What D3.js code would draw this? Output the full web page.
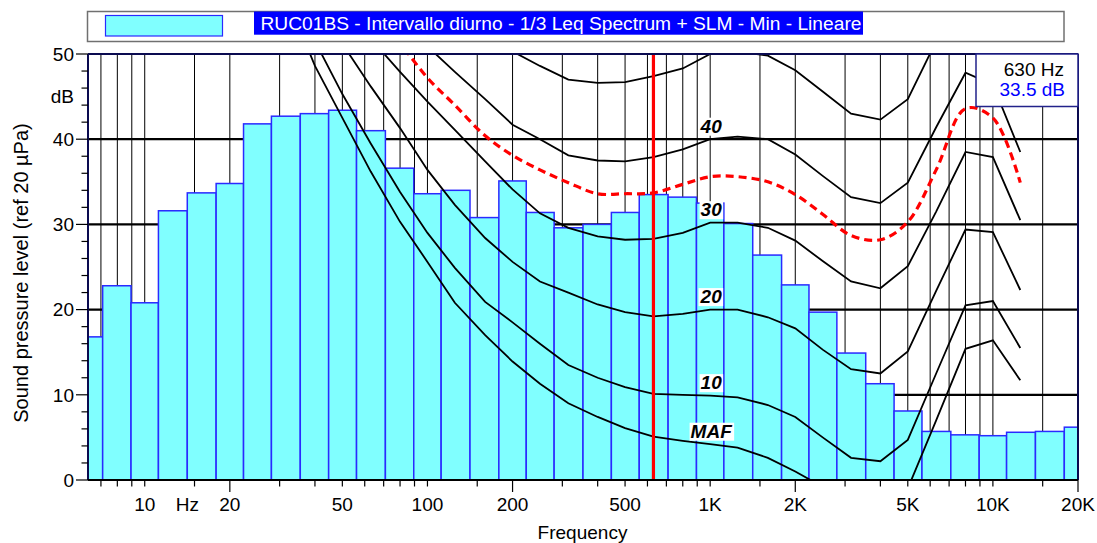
<!DOCTYPE html>
<html><head><meta charset="utf-8">
<script src="https://cdn.jsdelivr.net/npm/d3@7"></script>
<style>
body{margin:0;background:#fff}
svg{display:block}
text{font-family:"Liberation Sans",Arial,sans-serif}
</style>
</head><body>
<svg id="c" width="1097" height="543"></svg>
<script>
// ---------- DATA ----------
const bandFreqs = [6.3,8,10,12.5,16,20,25,31.5,40,50,63,80,100,125,160,200,250,315,400,500,630,800,1000,1250,1600,2000,2500,3150,4000,5000,6300,8000,10000,12500,16000,20000];
const bandLevels = [16.8,22.8,20.8,31.6,33.7,34.8,41.8,42.7,43.0,43.4,41.0,36.6,33.6,34.0,30.8,35.1,31.4,29.6,30.0,31.4,33.5,33.2,32.5,30.1,26.4,22.9,19.7,14.9,11.3,8.1,5.7,5.3,5.2,5.6,5.7,6.2];

const contourFreqs = [20,25,31.5,40,50,63,80,100,125,160,200,250,315,400,500,630,800,1000,1250,1600,2000,2500,3150,4000,5000,6300,8000,10000,12500];
const curveMAF = [74,66,57,48.6,42.5,36.2,30.3,25.6,20.8,17.0,13.9,11.3,9.0,7.4,6.1,5.1,4.6,4.2,3.8,2.6,1.0,-0.8,-2.5,-3.0,-1.0,7.0,15.4,16.4,11.7];
const curve10 = [78,70,61,51.5,45.3,39.5,33.8,29.0,24.9,20.9,18.5,16.0,13.5,12.0,10.9,10.1,10.0,9.9,9.7,8.8,7.4,5.0,2.6,2.2,4.7,12.5,20.5,21.0,15.5];
const curve20 = [82,75,68,57,51.2,46.2,41.3,36.4,32.3,28.4,25.6,23.3,22.0,20.6,19.7,19.2,19.5,20.0,20.0,19.1,17.8,15.3,13.0,12.5,15.1,22.2,29.4,29.1,22.3];
const curve30 = [86,79,72,63,57,51.8,47.9,44.4,41.1,37.4,34.1,31.3,29.6,28.6,28.2,28.3,29.0,30.2,30.2,29.6,28.1,25.7,23.3,22.5,25.1,31.5,38.5,37.9,30.5];
const curve40 = [90,83,76,69,63,58,54,50.9,47.9,44.7,41.7,40.0,38.1,37.5,37.4,37.9,38.8,40.0,40.3,40.0,38.2,35.7,33.2,32.5,34.9,41.4,47.8,46.4,38.5];
const curve50 = [96,89,82,76,71,66.5,62,58.5,55.5,52.8,50.3,48.6,47.0,46.6,46.7,47.4,48.3,50.0,50.3,49.8,48.1,45.6,43.0,42.3,44.7,51.5,58,57,49];
const curveRed = [88,82,76,69,62,55.5,51.3,47.2,44.0,40.4,38.1,36.4,34.9,33.6,33.6,33.7,34.7,35.6,35.6,35.0,33.5,31.2,28.7,28.2,30.3,36.4,43.6,42.5,34.9];

const blackCurves = [curveMAF, curve10, curve20, curve30, curve40, curve50];
const curveLabels = ["MAF","10","20","30","40"];
const labelledCurves = [curveMAF, curve10, curve20, curve30, curve40];
const labelFreq = 1000;

const xTickFreqs = [7,8,9,10,15,20,30,40,50,60,70,80,90,100,150,200,300,400,500,600,700,800,900,1000,1500,2000,3000,4000,5000,6000,7000,8000,9000,10000,15000,20000];
const xLongTickFreqs = [20,200,2000,20000];
const xLabelFreqs = [10,20,50,100,200,500,1000,2000,5000,10000,20000];
const xLabelTexts = ["10","20","50","100","200","500","1K","2K","5K","10K","20K"];
const hzLabelFreq = 14.15;
const yMinorTicks = d3.range(0, 51, 2);
const yLabelValues = [0,10,20,30,40,50];
const yGridValues = [10,20,30,40];
const dbLabelValue = 45;

const cursorFreq = 630;
const cursorText1 = "630 Hz";
const cursorText2 = "33.5 dB";
const legendTitle = "RUC01BS - Intervallo diurno - 1/3 Leq Spectrum + SLM - Min - Lineare";
const xTitle = "Frequency";
const yTitle = "Sound pressure level (ref 20 \u00B5Pa)";

// ---------- LAYOUT ----------
const L = 88, R = 1078, T = 54, B = 480;
const x = d3.scaleLog().domain([6.3, 20000]).range([L, R]);
const y = d3.scaleLinear().domain([0, 50]).range([B, T]);
const svg = d3.select("#c");
const FS = 19;

svg.append("defs").append("clipPath").attr("id","plotclip")
  .append("rect").attr("x",L).attr("y",T).attr("width",R-L).attr("height",B-T);

// Legend
const lg = svg.append("g");
lg.append("rect").attr("x",87.5).attr("y",11.5).attr("width",1064-87.5).attr("height",30)
  .attr("fill","#fff").attr("stroke","#707070").attr("stroke-width",1.5);
lg.append("rect").attr("x",105.5).attr("y",15.5).attr("width",117).attr("height",20.5)
  .attr("fill","#80ffff").attr("stroke","#2a2aff").attr("stroke-width",1.2);
lg.append("rect").attr("x",254).attr("y",11.5).attr("width",609).attr("height",23.2).attr("fill","#0000ff");
lg.append("text").attr("x",260.5).attr("y",30).attr("fill","#fff").attr("font-size",19.2).text(legendTitle);

// Grid (behind bars)
const plot = svg.append("g").attr("clip-path","url(#plotclip)");
plot.selectAll("line.vg").data(xTickFreqs.filter(f=>f<20000)).join("line")
  .attr("x1",d=>x(d)).attr("x2",d=>x(d)).attr("y1",T).attr("y2",B)
  .attr("stroke","#000").attr("stroke-width",1);
plot.selectAll("line.hg").data(yGridValues).join("line")
  .attr("x1",L).attr("x2",R).attr("y1",d=>y(d)).attr("y2",d=>y(d))
  .attr("stroke","#000").attr("stroke-width",2.2);

// Bars
const edges = bandFreqs.map((f,i)=>{
  const lo = i>0 ? Math.sqrt(bandFreqs[i-1]*f) : f/Math.sqrt(bandFreqs[1]/f);
  const n = bandFreqs.length;
  const hi = i<n-1 ? Math.sqrt(bandFreqs[i+1]*f) : f*Math.sqrt(f/bandFreqs[n-2]);
  return [lo,hi];
});
plot.selectAll("rect.bar").data(bandLevels).join("rect")
  .attr("x",(d,i)=>x(edges[i][0])).attr("width",(d,i)=>x(edges[i][1])-x(edges[i][0]))
  .attr("y",d=>y(d)).attr("height",d=>y(0)-y(d))
  .attr("fill","#80ffff").attr("stroke","#2a2aff").attr("stroke-width",1.5);

// Curves
const lineGen = d3.line().x((d,i)=>x(contourFreqs[i])).y(d=>y(d));
plot.selectAll("path.cv").data(blackCurves).join("path")
  .attr("d",d=>lineGen(d)).attr("fill","none").attr("stroke","#000").attr("stroke-width",1.8);
const redGen = d3.line().x((d,i)=>x(contourFreqs[i])).y(d=>y(d)).curve(d3.curveCatmullRom.alpha(0.5));
plot.append("path").attr("d",redGen(curveRed)).attr("fill","none")
  .attr("stroke","#ff0000").attr("stroke-width",3.2).attr("stroke-dasharray","8,5");

// Curve labels
const li = contourFreqs.indexOf(labelFreq);
labelledCurves.forEach((c,k)=>{
  const g = plot.append("g");
  const t = g.append("text").attr("x",x(labelFreq)+1).attr("y",y(c[li])-6.5)
    .attr("text-anchor","middle").attr("font-size",FS).attr("font-weight","bold")
    .attr("font-style","italic").attr("fill","#000").text(curveLabels[k]);
  const bb = t.node().getBBox();
  g.insert("rect","text").attr("x",bb.x-1).attr("y",bb.y+2).attr("width",bb.width+2).attr("height",bb.height-3)
    .attr("fill","#fff");
});

// Cursor line
plot.append("line").attr("x1",x(cursorFreq)).attr("x2",x(cursorFreq)).attr("y1",T).attr("y2",B)
  .attr("stroke","#ff0000").attr("stroke-width",3.2);

// Frame
svg.append("line").attr("x1",L).attr("x2",R).attr("y1",T).attr("y2",T).attr("stroke","#0a0a50").attr("stroke-width",2);
svg.append("line").attr("x1",L).attr("x2",L).attr("y1",T).attr("y2",B).attr("stroke","#0a0a50").attr("stroke-width",2);
svg.append("line").attr("x1",R).attr("x2",R).attr("y1",T).attr("y2",B).attr("stroke","#0a0a50").attr("stroke-width",2);
svg.append("line").attr("x1",L).attr("x2",R).attr("y1",B).attr("y2",B).attr("stroke","#000").attr("stroke-width",2);

// X ticks
svg.selectAll("line.xt").data(xTickFreqs).join("line")
  .attr("x1",d=>x(d)).attr("x2",d=>x(d)).attr("y1",B)
  .attr("y2",d=>B+(xLongTickFreqs.includes(d)?12:6.5))
  .attr("stroke","#000").attr("stroke-width",1.2);
svg.selectAll("text.xl").data(xLabelFreqs).join("text")
  .attr("x",d=>x(d)).attr("y",511).attr("text-anchor","middle").attr("font-size",FS)
  .text((d,i)=>xLabelTexts[i]);
svg.append("text").attr("x",x(hzLabelFreq)).attr("y",511).attr("text-anchor","middle").attr("font-size",FS).text("Hz");
svg.append("text").attr("x",582.5).attr("y",538.5).attr("text-anchor","middle").attr("font-size",FS).text(xTitle);

// Y ticks
svg.selectAll("line.yt").data(yMinorTicks).join("line")
  .attr("x1",d=>yLabelValues.includes(d)?76:81.5).attr("x2",L).attr("y1",d=>y(d)).attr("y2",d=>y(d))
  .attr("stroke","#000").attr("stroke-width",1.2);
svg.selectAll("text.yl").data(yLabelValues).join("text")
  .attr("x",74).attr("y",d=>y(d)).attr("dy","0.36em").attr("text-anchor","end").attr("font-size",FS)
  .text(d=>d);
svg.append("text").attr("x",74).attr("y",y(dbLabelValue)).attr("dy","0.36em").attr("text-anchor","end")
  .attr("font-size",FS).text("dB");
svg.append("text").attr("transform",`translate(28,${(T+B)/2 + 6}) rotate(-90)`)
  .attr("text-anchor","middle").attr("font-size",20).text(yTitle);

// Cursor box
svg.append("rect").attr("x",976).attr("y",T).attr("width",R-976).attr("height",52.5)
  .attr("fill","#fff").attr("stroke","#22228a").attr("stroke-width",1.5);
svg.append("text").attr("x",1064).attr("y",76).attr("text-anchor","end").attr("font-size",FS).attr("fill","#000").text(cursorText1);
svg.append("text").attr("x",1065).attr("y",95.5).attr("text-anchor","end").attr("font-size",FS).attr("fill","#0000ff").text(cursorText2);
</script>
</body></html>
